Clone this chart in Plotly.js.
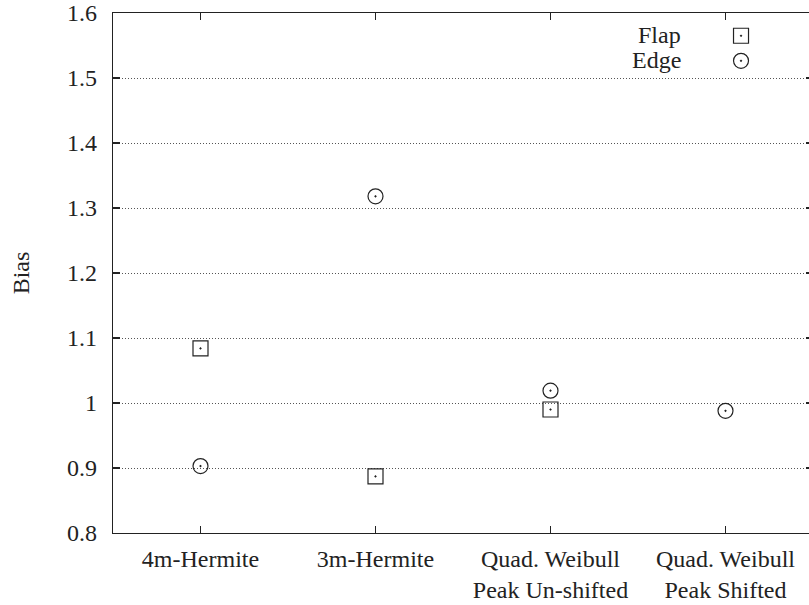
<!DOCTYPE html>
<html>
<head>
<meta charset="utf-8">
<script src="https://cdn.plot.ly/plotly-3.0.1.min.js"></script>
<style>html,body{margin:0;padding:0;overflow:hidden;background:#fff;}</style>
</head>
<body>
<div id="chart"></div>
<script>
var categories = ["4m-Hermite", "3m-Hermite", "Quad. Weibull<br>Peak Un-shifted", "Quad. Weibull<br>Peak Shifted"];
var flapValues = [1.084, 0.887, 0.990, null];
var edgeValues = [0.903, 1.318, 1.019, 0.988];
var seriesNames = ["Flap", "Edge"];
var yTickVals = [0.8, 0.9, 1.0, 1.1, 1.2, 1.3, 1.4, 1.5, 1.6];
var yTickText = ["0.8", "0.9", "1", "1.1", "1.2", "1.3", "1.4", "1.5", "1.6"];

var FONT = "'Liberation Serif', 'Times New Roman', serif";
var INK = "#222";

var traces = [
  {x: categories, y: flapValues, type: "scatter", mode: "markers", name: "",
   marker: {symbol: "square-open-dot", size: 15, color: INK, line: {width: 1.2, color: INK}}},
  {x: categories, y: edgeValues, type: "scatter", mode: "markers", name: " ",
   marker: {symbol: "circle-open-dot", size: 15, color: INK, line: {width: 1.2, color: INK}}}
];

var layout = {
  width: 815, height: 605,
  margin: {l: 113, r: 2, t: 13, b: 72, pad: 0},
  paper_bgcolor: "#fff", plot_bgcolor: "#fff",
  font: {family: FONT, size: 24, color: INK},
  showlegend: true,
  legend: {x: 0.8686, y: 0.99, xanchor: "left", yanchor: "top", bgcolor: "rgba(0,0,0,0)",
           font: {size: 17, family: FONT}, tracegroupgap: 0, itemwidth: 30},
  xaxis: {type: "category", range: [-0.5, 3.5], showline: true, linecolor: INK, linewidth: 1.2,
          mirror: "allticks", ticks: "inside", ticklen: 7, tickcolor: INK, tickwidth: 1.2,
          showgrid: false, zeroline: false, tickfont: {size: 24, family: FONT, color: INK},
          ticklabelstandoff: 4, fixedrange: true},
  yaxis: {range: [0.8, 1.6], tickvals: yTickVals, ticktext: yTickText, showline: true,
          linecolor: INK, linewidth: 1.2, mirror: "allticks", ticks: "inside", ticklen: 7,
          tickcolor: INK, tickwidth: 1.2, showgrid: true, gridcolor: "#555", gridwidth: 1,
          griddash: "1px,2px", zeroline: false, tickfont: {size: 24, family: FONT, color: INK},
          ticklabelstandoff: 10,
          title: {text: "Bias", font: {size: 24, family: FONT, color: INK}, standoff: 30}},
  annotations: [
    {xref: "paper", yref: "paper", x: 0.8143, y: 0.9577, xanchor: "right", yanchor: "middle",
     text: seriesNames[0], showarrow: false, font: {size: 24, family: FONT, color: INK}},
    {xref: "paper", yref: "paper", x: 0.8143, y: 0.9096, xanchor: "right", yanchor: "middle",
     text: seriesNames[1], showarrow: false, font: {size: 24, family: FONT, color: INK}}
  ]
};

Plotly.newPlot("chart", traces, layout, {displayModeBar: false, staticPlot: true});
</script>
</body>
</html>
